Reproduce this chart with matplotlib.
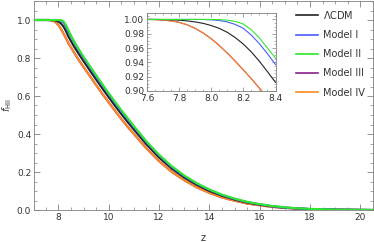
import numpy as np
import matplotlib
matplotlib.use("Agg")
import matplotlib.pyplot as plt
from matplotlib.ticker import MultipleLocator

# main panel data
z = [7.0, 7.6, 7.8, 7.9, 8.0, 8.1, 8.2, 8.3, 8.4, 8.6, 8.8, 9.0, 9.25, 9.5, 9.75,
     10.0, 10.25, 10.5, 10.75, 11.0, 11.5, 12.0, 12.5, 13.0, 13.5, 14.0, 14.5,
     15.0, 15.5, 16.0, 16.5, 17.0, 17.5, 18.0, 19.0, 20.0, 20.5]
f_lcdm = [1.0, 1.0, 0.999, 0.9965, 0.9915, 0.982, 0.9655, 0.9415, 0.912, 0.865, 0.823,
          0.783, 0.734, 0.686, 0.639, 0.593, 0.548, 0.505, 0.463, 0.423, 0.345,
          0.276, 0.218, 0.171, 0.132, 0.100, 0.075, 0.055, 0.039, 0.028, 0.019,
          0.012, 0.008, 0.005, 0.002, 0.0005, 0.0]
f_m1 = [1.0, 1.0, 1.0, 1.0, 0.9995, 0.9965, 0.9875, 0.966, 0.937, 0.889, 0.842,
        0.801, 0.752, 0.703, 0.656, 0.610, 0.564, 0.520, 0.478, 0.437, 0.357,
        0.287, 0.227, 0.179, 0.139, 0.106, 0.079, 0.058, 0.042, 0.030, 0.020,
        0.013, 0.009, 0.005, 0.002, 0.0006, 0.0]
f_m2 = [1.0, 1.0, 1.0, 1.0, 1.0, 0.999, 0.9935, 0.974, 0.946, 0.893, 0.848,
        0.807, 0.758, 0.709, 0.662, 0.615, 0.570, 0.526, 0.484, 0.442, 0.361,
        0.291, 0.231, 0.182, 0.141, 0.108, 0.081, 0.060, 0.043, 0.031, 0.021,
        0.014, 0.009, 0.006, 0.002, 0.0006, 0.0]
f_m3 = [1.0, 1.0, 0.996, 0.9875, 0.973, 0.953, 0.9295, 0.904, 0.877, 0.834, 0.791,
        0.752, 0.705, 0.657, 0.611, 0.566, 0.522, 0.479, 0.438, 0.400, 0.324,
        0.257, 0.201, 0.157, 0.119, 0.090, 0.066, 0.049, 0.034, 0.025, 0.016,
        0.011, 0.007, 0.004, 0.0015, 0.0004, 0.0]
f_m4 = f_m3

# inset data
z_in = [7.60, 7.65, 7.70, 7.75, 7.80, 7.85, 7.90, 7.95, 8.00,
        8.05, 8.10, 8.15, 8.20, 8.25, 8.30, 8.35, 8.40]
fi_lcdm = [1.0, 0.99995, 0.9998, 0.9995, 0.999, 0.998, 0.9965, 0.9945, 0.9915,
           0.9875, 0.982, 0.9745, 0.9655, 0.9545, 0.9415, 0.927, 0.912]
fi_m1 = [1.0, 1.0, 1.0, 1.0, 1.0, 1.0, 1.0, 0.9999, 0.9995,
         0.9985, 0.9965, 0.993, 0.9875, 0.978, 0.966, 0.952, 0.937]
fi_m2 = [1.0, 1.0, 1.0, 1.0, 1.0, 1.0, 1.0, 1.0, 0.9999,
         0.9997, 0.999, 0.9972, 0.9935, 0.9855, 0.974, 0.960, 0.946]
fi_m3 = [1.0, 0.9998, 0.9992, 0.998, 0.996, 0.9925, 0.9875, 0.981, 0.973,
         0.9635, 0.953, 0.9415, 0.9295, 0.917, 0.904, 0.8905, 0.877]
fi_m4 = fi_m3

labels = [r"$\Lambda$CDM", "Model I", "Model II", "Model III", "Model IV"]
colors = ["#222222", "#4a5cff", "#2ee82e", "#8a1f8f", "#ff8a1e"]

frame = "#808080"
txt = "#333333"

fig = plt.figure(figsize=(3.74, 2.42), dpi=100)
ax = fig.add_axes([34 / 374, 32 / 242, 339 / 374, 209 / 242])

series = [f_lcdm, f_m1, f_m2, f_m3, f_m4]
order = [3, 4, 0, 1, 2]
for i in order:
    ax.plot(z, series[i], color=colors[i], lw=1.5, label=labels[i], zorder=2 + order.index(i))

ax.set_xlim(7.03, 20.5)
ax.set_ylim(0, 1.1)
ax.xaxis.set_major_locator(MultipleLocator(2))
ax.xaxis.set_minor_locator(MultipleLocator(0.5))
ax.yaxis.set_major_locator(MultipleLocator(0.2))
ax.yaxis.set_minor_locator(MultipleLocator(0.05))
ax.set_yticks([0, 0.2, 0.4, 0.6, 0.8, 1.0])
ax.set_yticklabels(["0.0", "0.2", "0.4", "0.6", "0.8", "1.0"])
ax.tick_params(which="both", direction="in", top=True, right=True, colors=frame,
               labelcolor=txt, labelsize=6.5, pad=2)
ax.tick_params(which="major", length=4, width=0.6)
ax.tick_params(which="minor", length=2, width=0.5)
for s in ax.spines.values():
    s.set_color(frame)
    s.set_linewidth(0.6)
ax.set_xlabel("z", fontsize=7, color=txt, labelpad=8)
ax.set_ylabel(r"$f_{\rm HII}$", fontsize=7, color=txt, labelpad=2)

handles, labs = ax.get_legend_handles_labels()
hmap = dict(zip(labs, handles))
leg = ax.legend([hmap[l] for l in labels], labels, loc="upper right",
                bbox_to_anchor=(1.0, 1.0), frameon=False, fontsize=7,
                handlelength=2.2, handletextpad=0.6, labelspacing=0.95,
                borderaxespad=0.4)
for t in leg.get_texts():
    t.set_color(txt)
for h in leg.get_lines():
    h.set_linewidth(1.2)

# inset
axi = fig.add_axes([147 / 374, (242 - 91) / 242, 128.5 / 374, 78 / 242])
inset = [fi_lcdm, fi_m1, fi_m2, fi_m3, fi_m4]
for i in order:
    axi.plot(z_in, inset[i], color=colors[i], lw=0.8, zorder=2 + order.index(i))
axi.set_xlim(7.6, 8.4)
axi.set_ylim(0.9, 1.009)
axi.xaxis.set_major_locator(MultipleLocator(0.2))
axi.xaxis.set_minor_locator(MultipleLocator(0.05))
axi.yaxis.set_major_locator(MultipleLocator(0.02))
axi.yaxis.set_minor_locator(MultipleLocator(0.005))
axi.set_xticks([7.6, 7.8, 8.0, 8.2, 8.4])
axi.set_xticklabels(["7.6", "7.8", "8.0", "8.2", "8.4"])
axi.set_yticks([0.90, 0.92, 0.94, 0.96, 0.98, 1.00])
axi.set_yticklabels(["0.90", "0.92", "0.94", "0.96", "0.98", "1.00"])
axi.tick_params(which="both", direction="in", top=True, right=True, colors=frame,
                labelcolor=txt, labelsize=6.5, pad=2)
axi.tick_params(which="major", length=3, width=0.5)
axi.tick_params(which="minor", length=1.5, width=0.4)
for s in axi.spines.values():
    s.set_color(frame)
    s.set_linewidth(0.6)

fig.savefig("out.png", dpi=100)
